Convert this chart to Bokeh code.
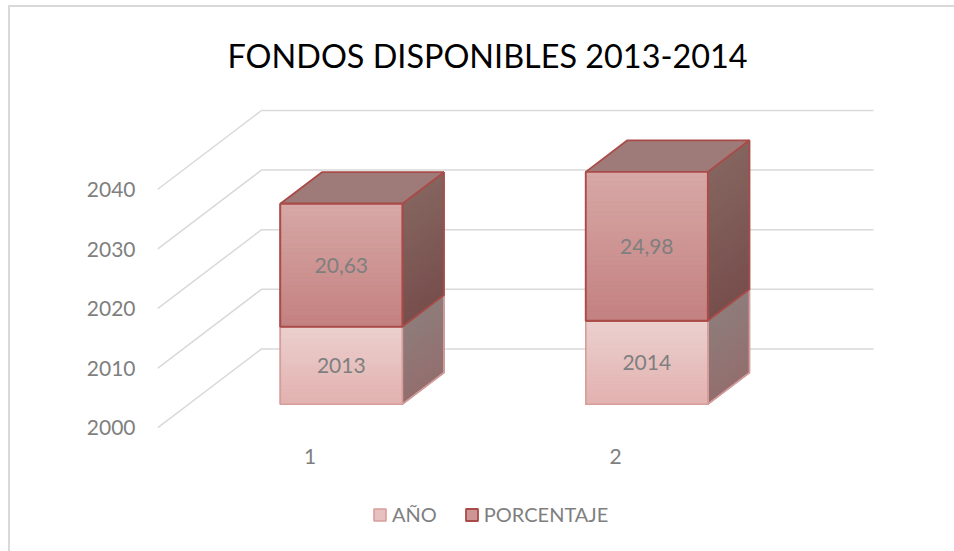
from bokeh.plotting import figure
from bokeh.models import ColumnDataSource, FixedTicker, Legend, LegendItem, Range1d
from bokeh.core.properties import value
from bokeh.embed import file_html
from bokeh.resources import INLINE
import numpy as np

title = "FONDOS DISPONIBLES 2013-2014"
categories = [1, 2]
anio = [2013, 2014]
porcentaje = [20.63, 24.98]
y_ticks = [2000, 2010, 2020, 2030, 2040]
series_names = ["AÑO", "PORCENTAJE"]
FONT = "Lato"
GREY = "#7F7F7F"

# scale and pseudo-3D projection
PX_X = 305.5
PX_Y = 5.96
DX = 104 / PX_X
DY = 79 / PX_Y
BAR = 122 / PX_X
D0, D1 = 0.3, 0.7
BASE = 2000
BASE_PX = 427.4

x0 = 1 + (157 - 309.6) / PX_X
x1 = 1 + (954 - 309.6) / PX_X
y0 = BASE - (540 - BASE_PX) / PX_Y
y1 = BASE + (BASE_PX - 90) / PX_Y
x_wall_end = 1 + (873 - 309.6) / PX_X

p = figure(width=954, height=551, output_backend="svg", toolbar_location=None,
           x_range=Range1d(x0, x1), y_range=Range1d(y0, y1),
           min_border_left=157, min_border_right=0, min_border_top=90, min_border_bottom=11,
           outline_line_color=None, border_fill_color=None, background_fill_color=None)
GL = "linear-gradient(#D9D9D9,#D9D9D9)"
p.styles = {"background": f"{GL} 8px 5px/946px 2px no-repeat, {GL} 8px 5px/2px 546px no-repeat, #FFFFFF"}
p.grid.visible = False

p.title.text = title
p.title.text_font = FONT
p.title.text_font_size = "32.4px"
p.title.text_font_style = "normal"
p.title.text_color = "#000000"
p.title.align = "left"
p.title.offset = 70
p.title.standoff = 32

for ax, ticks in ((p.xaxis[0], categories), (p.yaxis[0], y_ticks)):
    ax.ticker = FixedTicker(ticks=ticks)
    ax.axis_line_color = None
    ax.major_tick_line_color = None
    ax.minor_tick_line_color = None
    ax.major_label_text_font = FONT
    ax.major_label_text_font_size = "21px"
    ax.major_label_text_color = GREY
p.yaxis[0].major_label_standoff = 16
p.xaxis[0].fixed_location = BASE - 4 / PX_Y
p.xaxis[0].major_label_standoff = 11

# walls
p.multi_line(xs=[[x0, x0 + DX, x_wall_end] for _ in y_ticks],
             ys=[[v, v + DY, v + DY] for v in y_ticks],
             line_color="#D9D9D9", line_width=1.5)


def hex2(c):
    return np.array([int(c[i:i + 2], 16) for i in (1, 3, 5)], dtype=float)


def mix(a, b, t):
    c = hex2(a) * (1 - t) + hex2(b) * t
    return "#%02x%02x%02x" % tuple(int(round(v)) for v in c)


def draw_segment(cat, low, high, front, side, edge, width, top_face=None, n=30):
    left = cat + D0 * DX - BAR / 2
    right = left + BAR
    edges = np.linspace(high, low, n + 1)
    xs, ys, cols = [], [], []
    for i in range(n):
        xs.append([right, right + (D1 - D0) * DX, right + (D1 - D0) * DX, right])
        a, b = edges[i], edges[i + 1]
        ys.append([a + D0 * DY, a + D1 * DY, b + D1 * DY, b + D0 * DY])
        cols.append(mix(side[0], side[1], (i + .5) / n))
    p.patches(xs, ys, fill_color=cols, line_color=cols, line_width=1.5)
    p.patch([right, right + (D1 - D0) * DX, right + (D1 - D0) * DX, right],
            [high + D0 * DY, high + D1 * DY, low + D1 * DY, low + D0 * DY],
            fill_color=None, line_color=edge, line_width=width)
    if top_face:
        p.patch([left, right, right + (D1 - D0) * DX, left + (D1 - D0) * DX],
                [high + D0 * DY, high + D0 * DY, high + D1 * DY, high + D1 * DY],
                fill_color=top_face, line_color=edge, line_width=width)
    base = p.quad(left=[left], right=[right], bottom=[low + D0 * DY], top=[high + D0 * DY],
                  fill_color=mix(front[0], front[1], .5), line_color=edge, line_width=width)
    cols = [mix(front[0], front[1], (i + .5) / n) for i in range(n)]
    p.quad(left=[left] * n, right=[right] * n,
           top=edges[:-1] + D0 * DY, bottom=edges[1:] + D0 * DY,
           fill_color=cols, line_color=cols, line_width=0.5)
    p.quad(left=[left], right=[right], bottom=[low + D0 * DY], top=[high + D0 * DY],
           fill_color=None, line_color=edge, line_width=width)
    return base


legend_r = {}
lx, ly, lt = [], [], []
for cat, a, b in zip(categories, anio, porcentaje):
    r1 = draw_segment(cat, BASE, a, ("#EBD1CF", "#E2B1AF"), ("#8E7D7B", "#936F6F"), "#D79D9B", 1.6)
    r2 = draw_segment(cat, a, a + b, ("#D7A9A7", "#C38180"), ("#85655F", "#774F4D"), "#A94B48", 1.8,
                      top_face="#9E7B78")
    legend_r[series_names[0]] = r1
    legend_r[series_names[1]] = r2
    cx = cat + D0 * DX
    lx += [cx, cx]
    ly += [(BASE + a) / 2 + D0 * DY, a + b / 2 + D0 * DY]
    lt += [str(a), f"{b:.2f}".replace(".", ",")]

labels = ColumnDataSource(dict(x=lx, y=ly, t=lt))
p.text(x="x", y="y", text="t", source=labels, text_align="center", text_baseline="middle",
       text_font=value(FONT), text_font_size="21px", text_color=GREY)

legend = Legend(items=[LegendItem(label=n, renderers=[legend_r[n]]) for n in series_names],
                orientation="horizontal", location=(215, 14),
                border_line_color=None, background_fill_color=None,
                padding=0, margin=0, spacing=27, glyph_width=15, glyph_height=15, label_standoff=5,
                label_text_font=FONT, label_text_font_size="20px", label_text_color=GREY)
p.add_layout(legend, "center")

open("out.html", "w").write(file_html(p, INLINE))
